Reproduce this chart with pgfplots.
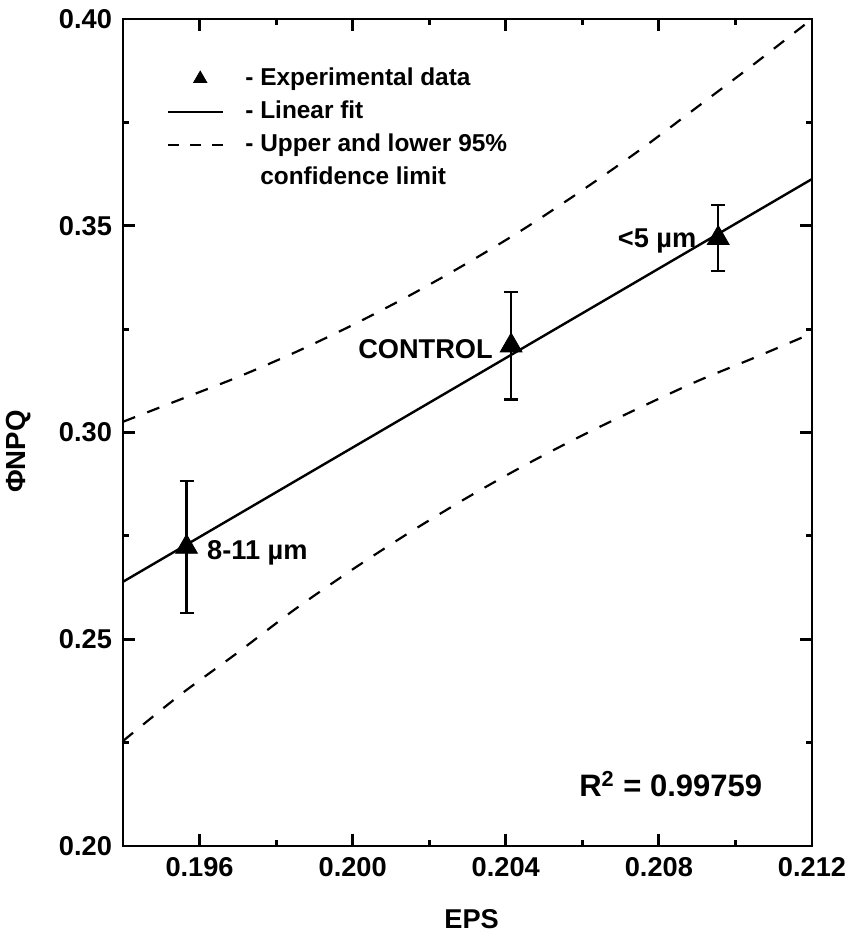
\documentclass[border=0pt]{standalone}
\usepackage{fontspec}
\setmainfont{Liberation Sans}
\usepackage{pgfplots}
\pgfplotsset{compat=1.18}
\usepackage{pgfplotstable}

\pgfplotstableread{
x y e
0.19566 0.2723 0.0160
0.20414 0.3210 0.0130
0.20955 0.3470 0.0080
}\expdata

\pgfplotstableread{
x y
0.1940 0.3026
0.1955 0.3080
0.1970 0.3134
0.1985 0.3194
0.2000 0.3260
0.2015 0.3332
0.2030 0.3410
0.2045 0.3494
0.2060 0.3586
0.2075 0.3683
0.2090 0.3787
0.2105 0.3892
0.2120 0.4000
}\upperband

\pgfplotstableread{
x y
0.1940 0.2254
0.1955 0.2366
0.1970 0.2468
0.1985 0.2573
0.2000 0.2669
0.2015 0.2759
0.2030 0.2843
0.2045 0.2921
0.2060 0.2993
0.2075 0.3060
0.2090 0.3124
0.2105 0.3181
0.2120 0.3240
}\lowerband

\begin{document}
\begin{tikzpicture}
\useasboundingbox (-61.5pt,-44pt) rectangle (364pt,423pt);
\begin{axis}[
  scale only axis,
  width=344.5pt, height=413.5pt,
  xmin=0.194, xmax=0.212, ymin=0.20, ymax=0.40,
  xtick={0.196,0.200,0.204,0.208,0.212},
  minor xtick={0.198,0.202,0.206,0.210},
  ytick={0.20,0.25,0.30,0.35,0.40},
  minor ytick={0.225,0.275,0.325,0.375},
  tick pos=both, tick align=inside,
  major tick length=6pt, minor tick length=3pt,
  every tick/.style={black, line width=1.4pt},
  axis line style={line width=1.4pt},
  scaled ticks=false,
  /pgf/number format/assume math mode=true,
  xticklabel style={/pgf/number format/.cd, fixed, fixed zerofill, precision=3, /tikz/.cd, yshift=-2pt},
  yticklabel style={/pgf/number format/.cd, fixed, fixed zerofill, precision=2, /tikz/.cd, xshift=-2pt},
  tick label style={font=\bfseries\fontsize{13.6}{16}\selectfont},
  xlabel={EPS},
  ylabel={ΦNPQ},
  xlabel style={at={(axis description cs:0.506,-0.0883)}, anchor=center, font=\bfseries\fontsize{13.6}{16}\selectfont},
  ylabel style={at={(axis description cs:-0.1517,0.477)}, anchor=center, font=\bfseries\fontsize{13.8}{16}\selectfont},
  legend cell align=left,
  legend style={at={(axis description cs:0.0639,0.9417)}, anchor=north west,
    draw=none, fill=none, inner sep=0pt, outer sep=0pt,
    row sep=5pt, column sep=10.5pt,
    font=\bfseries\fontsize{12.2}{14}\selectfont,
    nodes={inner sep=0pt, text height=9pt, text depth=2.5pt}},
]
\addlegendimage{legend image code/.code={\path (0pt,0pt) (27.5pt,0pt); \draw[black, mark=triangle*, mark size=3.8pt, only marks] plot coordinates {(16pt,0pt)};}}
\addlegendentry{- Experimental data}
\addlegendimage{legend image code/.code={\draw[black, line width=1.2pt] (0pt,0pt) -- (27.5pt,0pt);}}
\addlegendentry{- Linear fit}
\addlegendimage{legend image code/.code={\draw[black, line width=1.1pt, dash pattern=on 5.5pt off 5.5pt] (0pt,0pt) -- (27.5pt,0pt);}}
\addlegendentry{- Upper and lower 95\%}
\addlegendimage{legend image code/.code={\path (0pt,0pt) (27.5pt,0pt);}}
\addlegendentry{\phantom{- }confidence limit}

\addplot[black, line width=1.1pt, dash pattern=on 6.5pt off 6.5pt, smooth, forget plot] table[x=x,y=y] {\upperband};
\addplot[black, line width=1.1pt, dash pattern=on 6.5pt off 6.5pt, smooth, forget plot] table[x=x,y=y] {\lowerband};
\addplot[black, line width=1.2pt, forget plot] coordinates {(0.194,0.2639) (0.212,0.3613)};
\addplot[black, only marks, mark=triangle*, mark size=6.3pt, forget plot,
  error bars/.cd, y dir=both, y explicit,
  error bar style={line width=1.1pt},
  error mark options={black, line width=1.1pt, mark size=3.5pt, rotate=90}]
  table[x=x, y=y, y error=e] {\expdata};

\node[anchor=base west, inner sep=0pt, font=\bfseries\fontsize{13.6}{16}\selectfont] at (axis cs:0.19619,0.2692) {8-11 µm};
\node[anchor=base east, inner sep=0pt, font=\bfseries\fontsize{13.6}{16}\selectfont] at (axis cs:0.20367,0.31794) {CONTROL};
\node[anchor=base east, inner sep=0pt, font=\bfseries\fontsize{13.6}{16}\selectfont] at (axis cs:0.20899,0.34479) {<5 µm};
\node[anchor=base west, inner sep=0pt, font=\bfseries\fontsize{15.5}{18}\selectfont] at (axis cs:0.20591,0.21192) {R\textsuperscript{2} = 0.99759};
\end{axis}
\end{tikzpicture}
\end{document}
